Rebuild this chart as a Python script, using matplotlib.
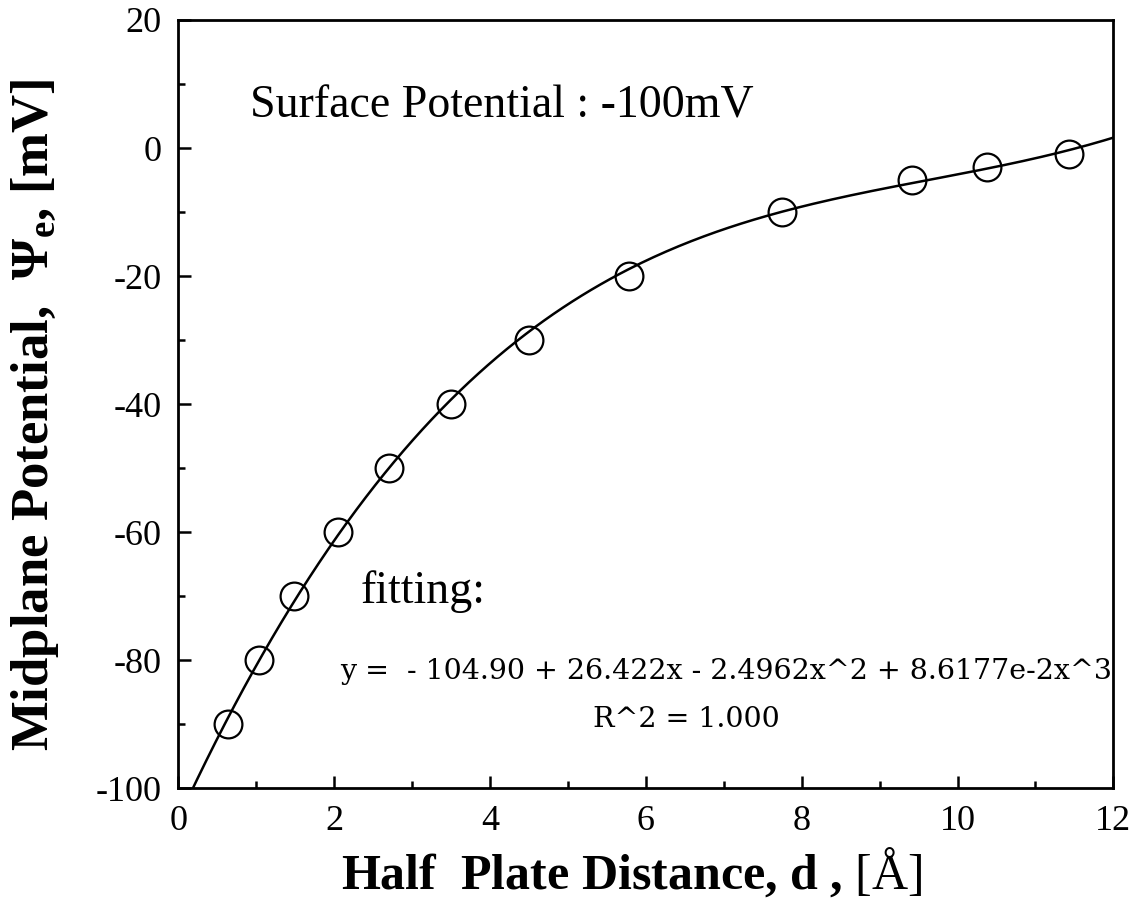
import numpy as np
import matplotlib
matplotlib.use("Agg")
import matplotlib.pyplot as plt
from matplotlib.ticker import MultipleLocator

# measured points (half plate distance [A], midplane potential [mV])
d_half = [0.64, 1.04, 1.49, 2.05, 2.70, 3.50, 4.50, 5.79, 7.75, 9.42, 10.38, 11.43]
psi_mid = [-90, -80, -70, -60, -50, -40, -30, -20, -10, -5, -3, -1]

# cubic fit coefficients as printed on the chart (c0, c1, c2, c3)
fit_coef = [-104.90, 26.422, -2.4962, 8.6177e-2]

xticks = [0, 2, 4, 6, 8, 10, 12]
yticks = [-100, -80, -60, -40, -20, 0, 20]

plt.rcParams['font.family'] = ['Liberation Serif', 'DejaVu Serif']
plt.rcParams['axes.unicode_minus'] = False
plt.rcParams['mathtext.fontset'] = 'custom'
plt.rcParams['mathtext.rm'] = 'Liberation Serif'
plt.rcParams['mathtext.bf'] = 'Liberation Serif:bold'
plt.rcParams['mathtext.it'] = 'Liberation Serif:italic'

fig = plt.figure(figsize=(11.35, 9.08), dpi=100)
ax = fig.add_axes([0.157, 0.132, 0.824, 0.846])

# fitted curve
xs = np.linspace(0, 12, 300)
ys = np.polyval(fit_coef[::-1], xs)
ax.plot(xs, ys, color='black', lw=1.8)

# data points
ax.plot(d_half, psi_mid, 'o', ms=20, mfc='none', mec='black', mew=1.6)

ax.set_xlim(0, 12)
ax.set_ylim(-100, 20)
ax.set_xticks(xticks)
ax.set_yticks(yticks)
ax.xaxis.set_minor_locator(MultipleLocator(1))
ax.yaxis.set_minor_locator(MultipleLocator(10))
ax.tick_params(which='both', direction='in', top=False, right=False,
               width=1.8, labelsize=26)
ax.tick_params(axis='x', pad=12)
ax.tick_params(axis='y', pad=12)
ax.tick_params(which='major', length=9)
ax.tick_params(which='minor', length=5)
for sp in ax.spines.values():
    sp.set_linewidth(2.0)

ax.set_xlabel(r"Half  Plate Distance, d , $\mathrm{[\AA]}$",
              fontsize=36, fontweight='bold')
ax.set_ylabel(r"Midplane Potential,  $\mathbf{\Psi_e}$, [mV]",
              fontsize=38, fontweight='bold')
ax.xaxis.set_label_coords(0.485, -0.075, transform=ax.transAxes)
ax.xaxis.label.set_va('top')
ax.yaxis.set_label_coords(-0.125, 0.486, transform=ax.transAxes)

ax.text(0.92, 4.8, "Surface Potential : -100mV", fontsize=33)
ax.text(2.34, -71, "fitting:", fontsize=33)
ax.text(2.08, -81.8, "y =  - 104.90 + 26.422x - 2.4962x^2 + 8.6177e-2x^3",
        fontsize=20.5, family=['DejaVu Serif'], va='center')
ax.text(6.52, -89.2, "R^2 = 1.000", fontsize=20.5, family=['DejaVu Serif'],
        va='center', ha='center')

fig.savefig("out.png", dpi=100)
